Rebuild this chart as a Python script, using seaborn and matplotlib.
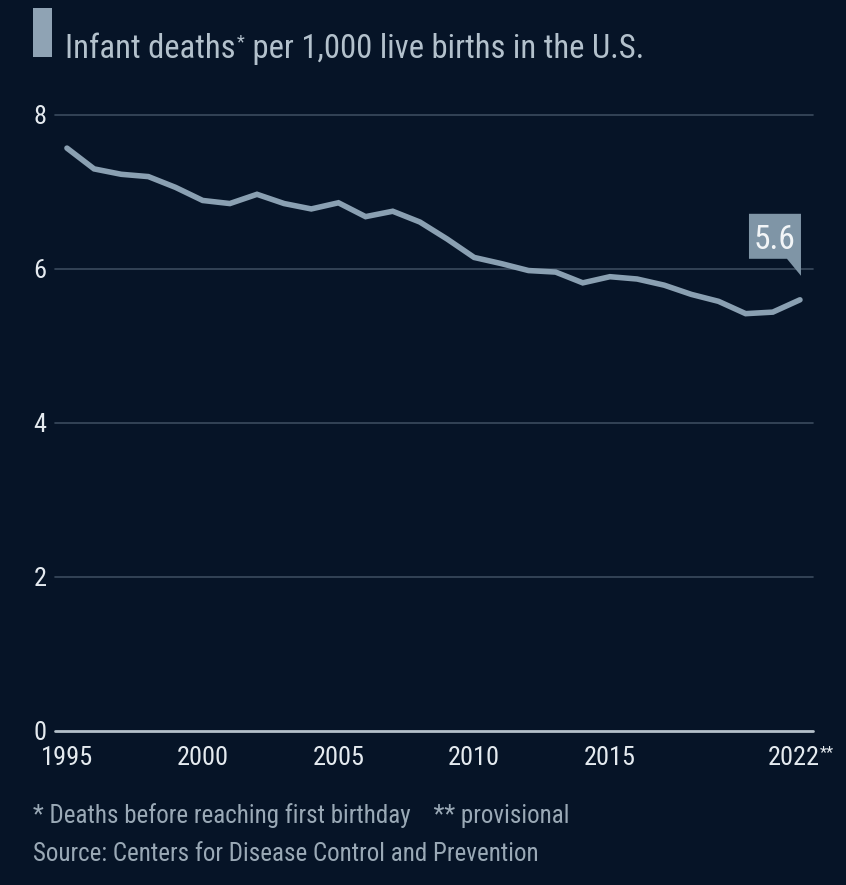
import os
import matplotlib
matplotlib.use("Agg")
import matplotlib.pyplot as plt
from matplotlib.font_manager import fontManager, FontProperties
from matplotlib.patches import Polygon, Rectangle
from matplotlib.transforms import ScaledTranslation
import pandas as pd
import seaborn as sns

years = list(range(1995, 2023))
rates = [7.57, 7.30, 7.23, 7.20, 7.06, 6.89, 6.85, 6.97, 6.85, 6.78,
         6.86, 6.68, 6.75, 6.61, 6.39, 6.15, 6.07, 5.98, 5.96, 5.82,
         5.90, 5.87, 5.79, 5.67, 5.58, 5.42, 5.44, 5.60]
x_ticks = [1995, 2000, 2005, 2010, 2015, 2022]
x_tick_labels = ["1995", "2000", "2005", "2010", "2015", "2022"]
y_ticks = [0, 2, 4, 6, 8]

BG = "#061427"
LINE = "#8aa0b2"
TEXT = "#e4eaef"
TITLE = "#b3c1cc"
MUTED = "#9aa9b6"

sns.set_theme(style="dark")


def pick_font():
    """Prefer a narrow/condensed regular face; fall back to Open Sans."""
    prefs = ["open sans", "roboto", "liberation sans narrow", "noto sans", "dejavu sans"]
    found = []
    for f in fontManager.ttflist:
        key = (f.name + " " + os.path.basename(f.fname)).lower()
        if ("condensed" in key or "narrow" in key) and f.style == "normal" \
                and f.weight in (400, "normal", "regular", "book") \
                and "semicondensed" not in key.replace("-", "").replace(" ", ""):
            rank = next((i for i, p in enumerate(prefs) if p in key), len(prefs))
            found.append((rank, f.fname))
    if found:
        found.sort()
        return FontProperties(fname=found[0][1]), True
    return FontProperties(family="Open Sans"), False


PROP, NARROW = pick_font()
plt.rcParams["font.family"] = ["Open Sans", "DejaVu Sans"]


def fp(size):
    p = PROP.copy()
    p.set_size(size)
    return p


df = pd.DataFrame({"year": years, "rate": rates})

fig = plt.figure(figsize=(8.46, 8.85), dpi=100, facecolor=BG)
ax = fig.add_axes([55 / 846, 1 - 731 / 885, (813 - 55) / 846, (731 - 115) / 885])
ax.set_facecolor(BG)

sns.lineplot(data=df, x="year", y="rate", ax=ax, color=LINE, linewidth=4,
             solid_joinstyle="miter", zorder=3)

ax.set_xlim(1994.56, 2022.48)
ax.set_ylim(0, 8)
for s in ax.spines.values():
    s.set_visible(False)

for v in y_ticks:
    ax.axhline(v, color="#b4c0ca" if v == 0 else "#3a4b5e",
               linewidth=2 if v == 0 else 1.2, zorder=1, clip_on=False)

ax.set_xticks(x_ticks)
ax.set_xticklabels(x_tick_labels)
ax.set_yticks(y_ticks)
ax.set_yticklabels([str(v) for v in y_ticks])
ax.tick_params(axis="both", length=0, labelcolor=TEXT)
ax.tick_params(axis="x", pad=11)
ax.tick_params(axis="y", pad=6)
ax.set_xlabel("")
ax.set_ylabel("")
ax.grid(False)

# tick label sizing: large digits on a narrow face
tick_size = 19 if NARROW else 16
for lbl in ax.get_xticklabels() + ax.get_yticklabels():
    lbl.set_fontproperties(fp(tick_size))
for lbl in ax.get_yticklabels():
    lbl.set_verticalalignment("center_baseline")

# provisional marker on the last year label
last_lbl = ax.get_xticklabels()[-1]
last_lbl.set_transform(last_lbl.get_transform()
                       + ScaledTranslation(-6 / 100, 0, fig.dpi_scale_trans))
fig.add_artist(plt.Annotation("**", xy=(1, 1), xycoords=last_lbl,
                              xytext=(-0.5, 1), textcoords="offset points",
                              ha="left", va="top", color=TEXT,
                              fontproperties=fp(tick_size * 0.62),
                              annotation_clip=False))

# value callout for the latest year
last_x, last_y = years[-1], rates[-1]
tip = ax.transData.transform((last_x, last_y))
tip_px = (tip[0], tip[1] + 24)
box_right = tip_px[0] + 1
box_left = box_right - 52
box_bottom = tip_px[1] + 17
box_top = box_bottom + 45
inv = fig.transFigure.inverted()


def fpt(x, y):
    return inv.transform((x, y))


callout = Polygon([fpt(box_left, box_bottom), fpt(box_right - 14, box_bottom),
                   fpt(box_right, tip_px[1]), fpt(box_right, box_top),
                   fpt(box_left, box_top)],
                  closed=True, transform=fig.transFigure, facecolor="#7f95a6",
                  edgecolor="none", zorder=5)
fig.patches.append(callout)
cx, cy = fpt((box_left + box_right) / 2, (box_bottom + box_top) / 2)
fig.text(cx, cy, f"{last_y:.1f}", color="#f2f5f7",
         fontproperties=fp(24 if NARROW else 20),
         ha="center", va="center_baseline", zorder=6)

# title with accent bar
fig.patches.append(Rectangle((33 / 846, 1 - 57 / 885), 19 / 846, 49 / 885,
                             transform=fig.transFigure, facecolor="#8fa3b4",
                             edgecolor="none"))
title_size = 23.5 if NARROW else 21
t1 = fig.text(65 / 846, 1 - 58 / 885, "Infant deaths", color=TITLE,
              fontproperties=fp(title_size), ha="left", va="baseline")
star = fig.add_artist(plt.Annotation("*", xy=(1, 1), xycoords=t1,
                                     xytext=(1, 0), textcoords="offset points",
                                     ha="left", va="top", color=TITLE,
                                     fontproperties=fp(title_size * 0.55)))
fig.add_artist(plt.Annotation(" per 1,000 live births in the U.S.",
                              xy=(1, 0), xycoords=(star, t1),
                              ha="left", va="bottom", color=TITLE,
                              fontproperties=fp(title_size)))

# footnotes
foot_size = 18 if NARROW else 15
fig.text(33 / 846, 1 - 823 / 885,
         "* Deaths before reaching first birthday    ** provisional",
         color=MUTED, fontproperties=fp(foot_size), ha="left", va="baseline")
fig.text(33 / 846, 1 - 861 / 885,
         "Source: Centers for Disease Control and Prevention",
         color=MUTED, fontproperties=fp(foot_size), ha="left", va="baseline")

fig.savefig("out.png", dpi=100, facecolor=BG)
